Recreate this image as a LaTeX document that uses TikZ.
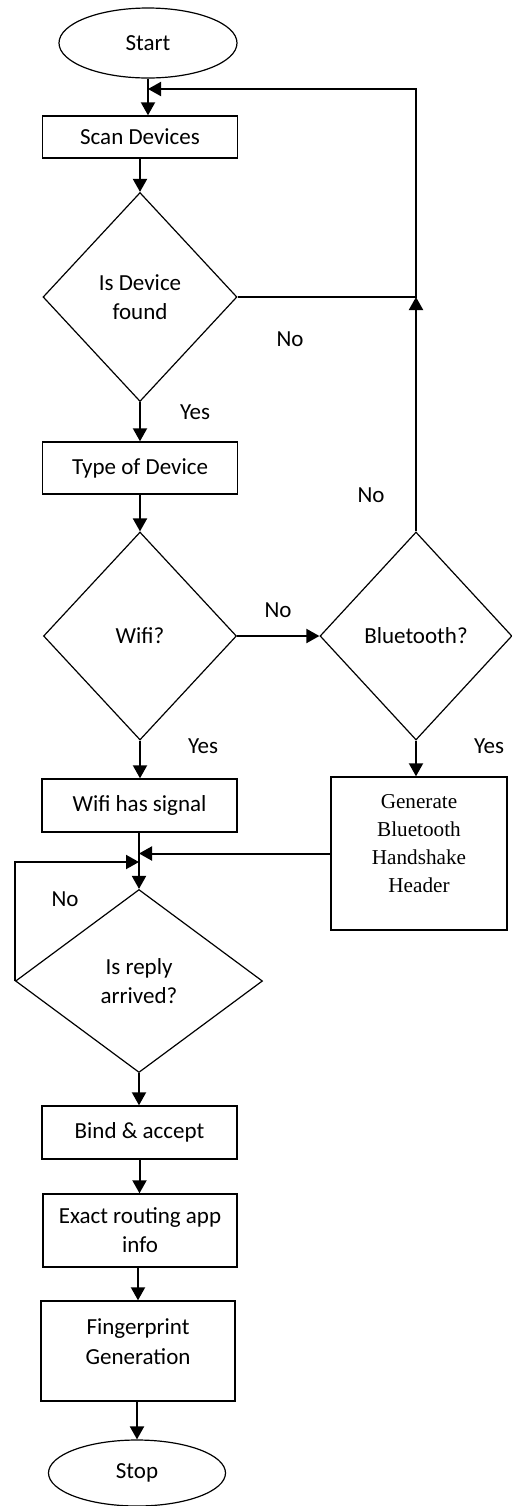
\documentclass[tikz,border=0pt]{standalone}
\usepackage{fontspec}
\setmainfont{Carlito}
\newfontfamily\timesfont{Liberation Serif}
\usetikzlibrary{arrows.meta,shapes.geometric}

\begin{document}
\begin{tikzpicture}[
    x=0.5pt, y=-0.5pt,
    term/.style={draw, ellipse, line width=0.6pt, inner sep=0pt, font=\fontsize{11.5}{14.5}\selectfont},
    proc/.style={draw, line width=0.7pt, minimum width=97.5pt, inner sep=0pt, align=center, font=\fontsize{11.5}{14.5}\selectfont},
    decide/.style={draw, diamond, line width=0.6pt, inner sep=0pt, align=center, font=\fontsize{11.5}{14.5}\selectfont},
    lbl/.style={inner sep=1pt, font=\fontsize{11.5}{14}\selectfont},
    arr/.style={-{Triangle[length=6.5pt, width=7pt]}, line width=1pt}
  ]
  \useasboundingbox (0,0) rectangle (512,1506);

  % main column
  \node[term, minimum width=89pt, minimum height=35pt] (start) at (148,43) {Start};
  \node[proc, minimum height=21pt] (scan) at (140,137) {Scan Devices};
  \node[decide, minimum width=97pt, minimum height=104.5pt] (found) at (140,297) {Is Device\\found};
  \node[proc, minimum height=26pt] (type) at (140,468) {Type of Device};
  \node[decide, minimum width=96.5pt, minimum height=104pt] (wifi) at (140,636) {Wifi?};
  \node[proc, minimum height=26.5pt] (wsig) at (139.5,805.5) {Wifi has signal};
  \node[decide, minimum width=123.5pt, minimum height=91.5pt] (reply) at (139,981) {Is reply\\arrived?};
  \node[proc, minimum height=26.5pt] (bind) at (139.5,1132.5) {Bind \& accept};
  \node[proc, minimum width=97pt, minimum height=36.5pt] (route) at (140,1230.5) {Exact routing app\\info};
  \node[proc, minimum width=97pt, minimum height=50pt] (finger) at (138,1351) {};
  \node[lbl, align=center, font=\fontsize{11.5}{15}\selectfont] (fingertxt) at (138,1342) {Fingerprint\\Generation};
  \node[term, minimum width=88.5pt, minimum height=33pt] (stop) at (137,1473) {Stop};

  % bluetooth branch
  \node[decide, minimum width=96pt, minimum height=104pt] (bt) at (416,636) {Bluetooth?};
  \node[proc, minimum width=88pt, minimum height=76.5pt] (gen) at (419,853.5) {};
  \node[lbl, align=center, font=\timesfont\fontsize{10.6}{14}\selectfont] (gentxt) at (419,844) {Generate\\Bluetooth\\Handshake\\Header};

  % helper points
  \coordinate (top) at (148,89);
  \coordinate (nojoin) at (bt.north |- found.east);
  \coordinate (merge) at (reply.north |- gen.west);
  \coordinate (back) at (reply.north |- 0,862);

  % connectors
  \draw[arr] (start.south) -- (start.south |- scan.north);
  \draw[arr] (scan) -- (found);
  \draw[arr] (found) -- (type);
  \draw[arr] (type) -- (wifi);
  \draw[arr] (wifi) -- (wifi |- wsig.north);
  \draw[arr] (reply.north |- wsig.south) -- (reply.north);
  \draw[arr] (reply) -- (reply |- bind.north);
  \draw[arr] (bind) -- (bind |- route.north);
  \draw[arr] (finger.north |- route.south) -- (finger.north);
  \draw[arr] (stop.north |- finger.south) -- (stop.north);
  \draw[arr] (wifi) -- (bt);
  \draw[arr] (bt) -- (gen.north -| bt.south);
  \draw[arr] (bt.north) -- (nojoin);
  \draw[arr] (found.east) -- (nojoin) -- (nojoin |- top) -- (top);
  \draw[arr] (gen.west) -- (merge);
  \draw[arr] (reply.west) -- (reply.west |- back) -- (back);

  % labels
  \node[lbl] (nofound) at (290,339) {No};
  \node[lbl] (yesfound) at (195,412) {Yes};
  \node[lbl] (nobt) at (371,495) {No};
  \node[lbl] (nowifi) at (278,610) {No};
  \node[lbl] (yeswifi) at (203,746) {Yes};
  \node[lbl] (yesbt) at (489,746) {Yes};
  \node[lbl] (noreply) at (65,899) {No};
\end{tikzpicture}
\end{document}
